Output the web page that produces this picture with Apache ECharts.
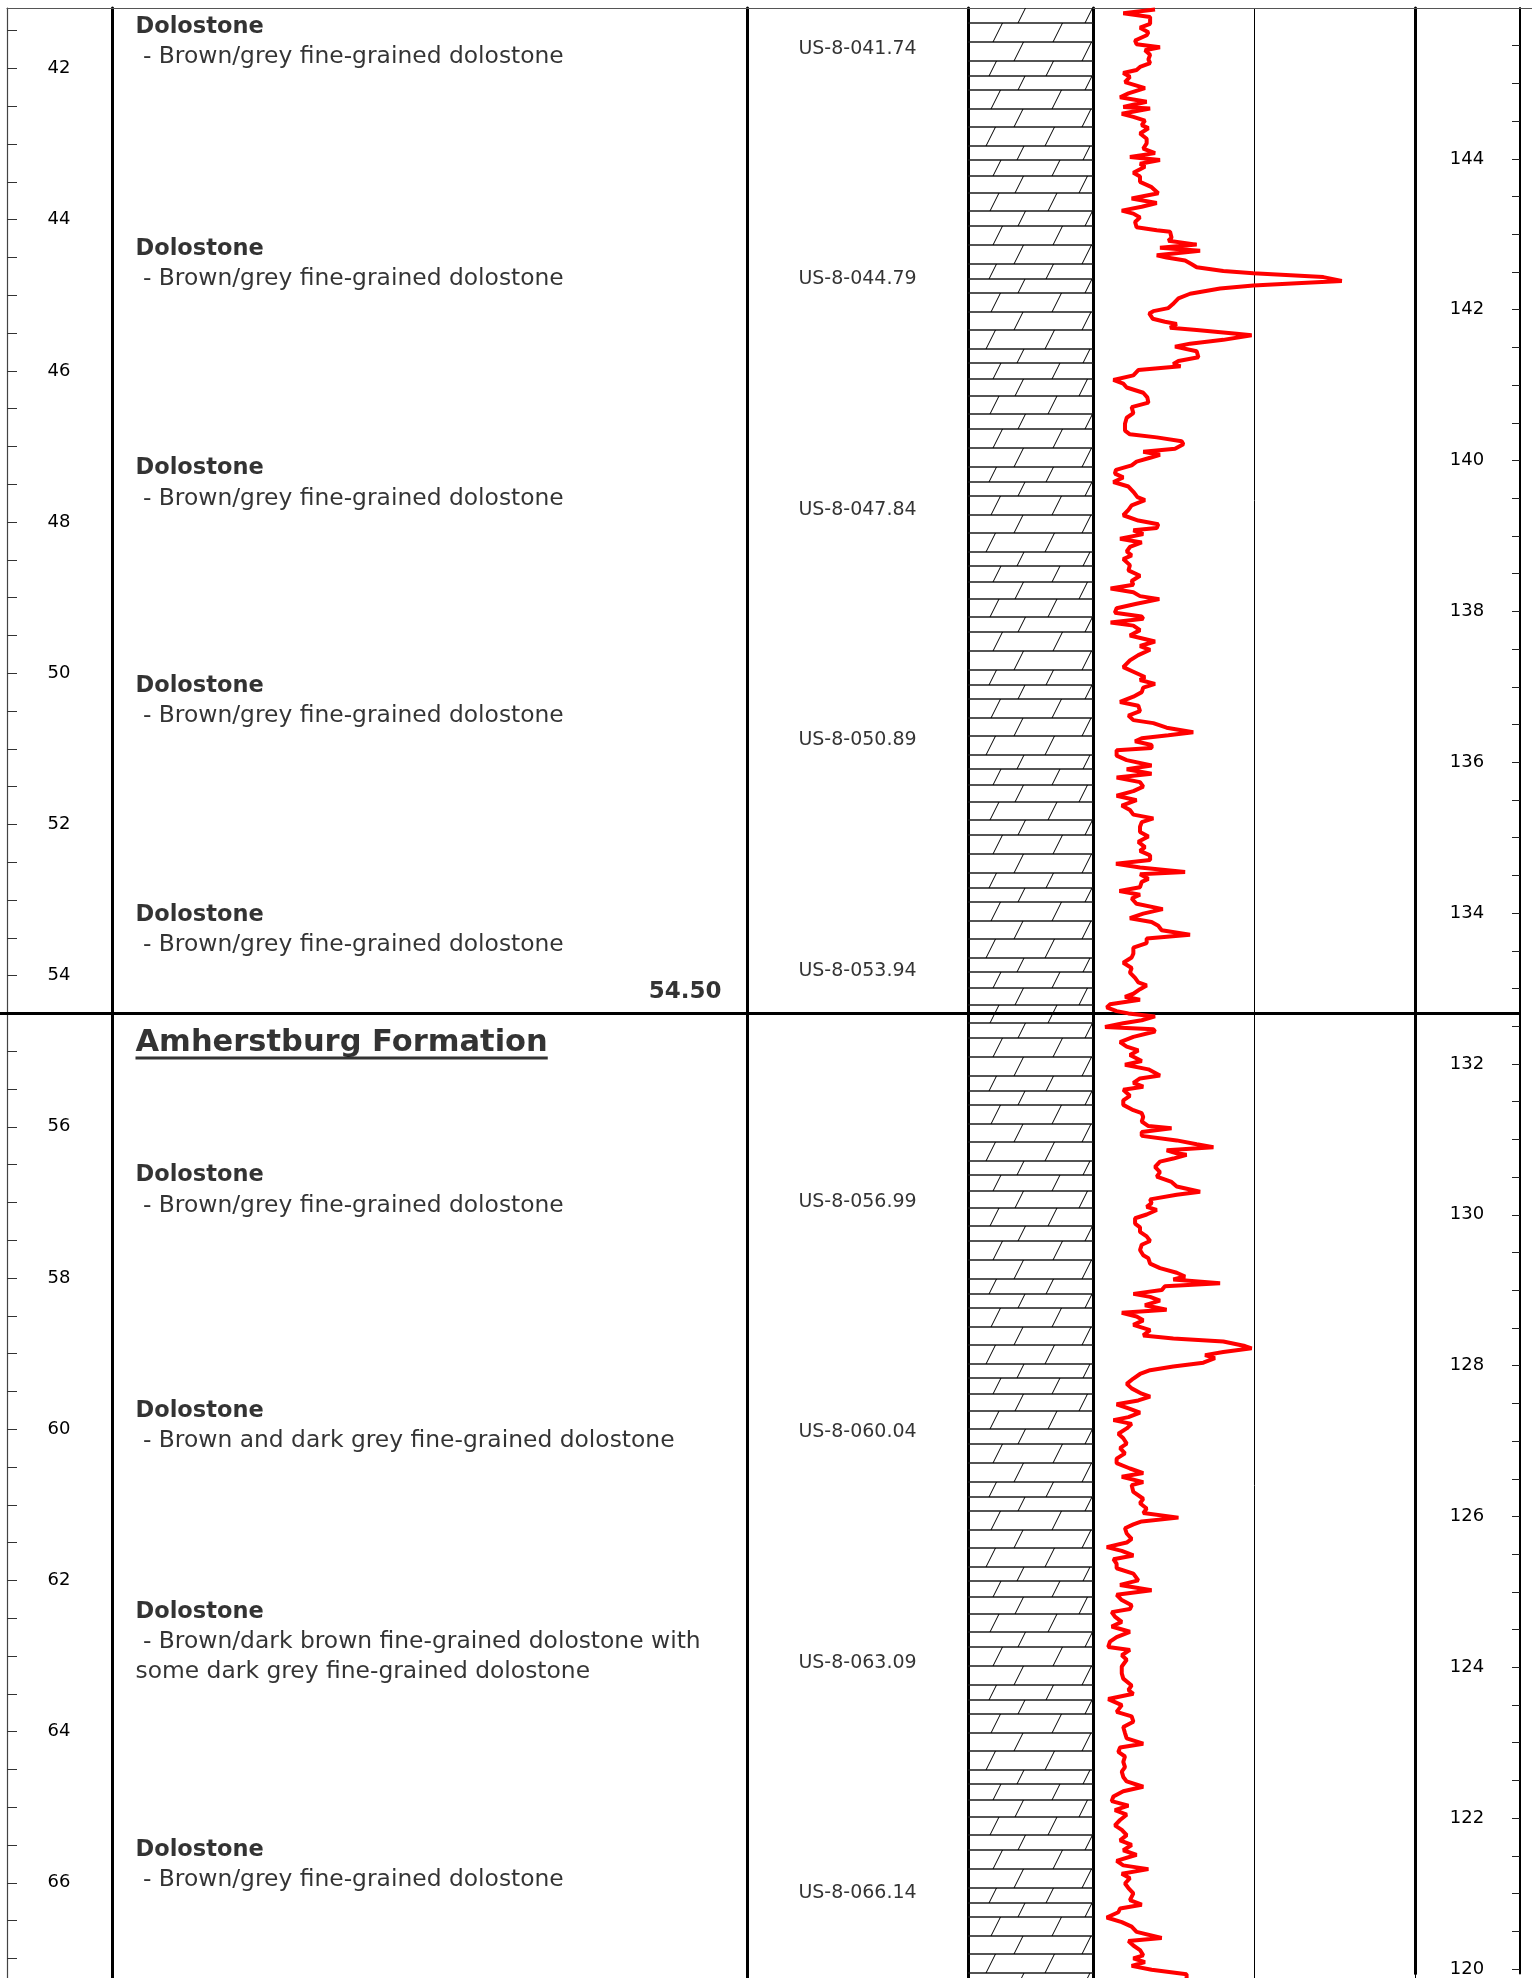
<!DOCTYPE html>
<html>
<head>
<meta charset="utf-8">
<title>US-8 borehole log</title>
<script src="https://cdn.jsdelivr.net/npm/echarts@6/dist/echarts.min.js"></script>
<style>
  html, body { margin: 0; padding: 0; background: #fff; }
  #log { width: 1532px; height: 1978px; }
</style>
</head>
<body>
<div id="log"></div>
<script>
// depth window of this sheet (m below ground) and ground elevation (m asl)
const depthTop = 41.2
const depthBottom = 67.26
const groundElev = 187.2

const depthLabels = [42, 44, 46, 48, 50, 52, 54, 56, 58, 60, 62, 64, 66]
const elevLabels = [120, 122, 124, 126, 128, 130, 132, 134, 136, 138, 140, 142, 144]

// lithology descriptions
const descDepths = [41.46, 44.40, 47.30, 50.18, 53.21, 56.65, 59.77, 62.43, 65.57]
const descTitles = ['Dolostone', 'Dolostone', 'Dolostone', 'Dolostone', 'Dolostone',
  'Dolostone', 'Dolostone', 'Dolostone', 'Dolostone']
const descLines = [
  [' - Brown/grey fine-grained dolostone'],
  [' - Brown/grey fine-grained dolostone'],
  [' - Brown/grey fine-grained dolostone'],
  [' - Brown/grey fine-grained dolostone'],
  [' - Brown/grey fine-grained dolostone'],
  [' - Brown/grey fine-grained dolostone'],
  [' - Brown and dark grey fine-grained dolostone'],
  [' - Brown/dark brown fine-grained dolostone with', 'some dark grey fine-grained dolostone'],
  [' - Brown/grey fine-grained dolostone']
]

// formation tops
const formationTops = [54.5]
const formationNames = ['Amherstburg Formation']
const formationLabelDepths = [54.89]

// core samples
const sampleIds = ['US-8-041.74', 'US-8-044.79', 'US-8-047.84', 'US-8-050.89', 'US-8-053.94',
  'US-8-056.99', 'US-8-060.04', 'US-8-063.09', 'US-8-066.14']
const sampleDepths = [41.74, 44.79, 47.84, 50.89, 53.94, 56.99, 60.04, 63.09, 66.14]

// lithology column intervals (dolostone)
const lithTop = [41.2]
const lithBottom = [67.26]

// gamma log
const gammaDepth = [
  41.22, 41.27, 41.32, 41.41, 41.46, 41.52, 41.56, 41.63, 41.68, 41.72, 41.76, 41.82, 41.88, 41.93, 41.98,
  42.02, 42.06, 42.11, 42.18, 42.26, 42.33, 42.38, 42.44, 42.51, 42.53, 42.60, 42.64, 42.69, 42.75, 42.79,
  42.86, 42.93, 42.99, 43.06, 43.12, 43.17, 43.21, 43.26, 43.30, 43.38, 43.43, 43.50, 43.57, 43.65, 43.72,
  43.78, 43.83, 43.88, 43.92, 43.97, 44.03, 44.10, 44.14, 44.16, 44.24, 44.28, 44.33, 44.37, 44.41, 44.47,
  44.50, 44.54, 44.59, 44.63, 44.68, 44.71, 44.76, 44.81, 44.84, 44.87, 44.91, 44.98, 45.04, 45.12, 45.17,
  45.21, 45.24, 45.31, 45.35, 45.38, 45.43, 45.46, 45.51, 45.53, 45.59, 45.64, 45.68, 45.74, 45.82, 45.87,
  45.91, 45.94, 45.99, 46.06, 46.12, 46.17, 46.22, 46.29, 46.35, 46.42, 46.48, 46.56, 46.62, 46.70, 46.79,
  46.84, 46.88, 46.93, 46.97, 47.03, 47.07, 47.11, 47.15, 47.20, 47.25, 47.31, 47.36, 47.41, 47.47, 47.53,
  47.60, 47.67,
  47.71, 47.78, 47.84, 47.91, 47.98, 48.03, 48.08, 48.11, 48.16, 48.22, 48.27, 48.33, 48.39, 48.44, 48.49,
  48.57, 48.64, 48.71, 48.78, 48.83, 48.88, 48.93, 48.98, 49.02, 49.08, 49.14, 49.20, 49.25, 49.28, 49.33,
  49.37, 49.43, 49.50, 49.58, 49.64, 49.69, 49.76, 49.83, 49.92, 49.98, 50.05, 50.09, 50.14, 50.19, 50.25,
  50.31, 50.38, 50.43, 50.50, 50.56, 50.62, 50.66, 50.72, 50.78, 50.82, 50.86, 50.90, 50.95, 50.99, 51.02,
  51.09, 51.15, 51.22, 51.27, 51.33, 51.38, 51.44, 51.50, 51.56, 51.62, 51.68, 51.75, 51.81, 51.87, 51.92,
  51.97, 52.03, 52.10, 52.16, 52.23, 52.30, 52.35, 52.41, 52.47, 52.52, 52.57, 52.63, 52.66, 52.72, 52.76,
  52.83, 52.88, 52.93, 52.98, 53.05, 53.12, 53.18, 53.24, 53.29, 53.34, 53.40, 53.46, 53.51, 53.57, 53.63,
  53.71, 53.76, 53.83, 53.90, 53.96, 54.03, 54.09, 54.13, 54.18,
  54.19, 54.24, 54.28, 54.32, 54.38, 54.42, 54.47, 54.50, 54.54, 54.59, 54.63, 54.68, 54.71, 54.74, 54.81,
  54.88, 54.94, 54.99, 55.05, 55.13, 55.18, 55.24, 55.32, 55.36, 55.42, 55.47, 55.51, 55.59, 55.65, 55.71,
  55.78, 55.82, 55.87, 55.93, 55.99, 56.02, 56.07, 56.12, 56.18, 56.23, 56.27, 56.31, 56.35, 56.37, 56.42,
  56.46, 56.53, 56.60, 56.66, 56.73, 56.79, 56.86, 56.90, 56.96, 57.01, 57.06, 57.10, 57.16, 57.21, 57.28,
  57.33, 57.39, 57.45, 57.51, 57.56, 57.63, 57.70, 57.74, 57.81, 57.87, 57.93, 57.98, 58.02, 58.07, 58.11,
  58.16, 58.21, 58.25, 58.30, 58.36, 58.42, 58.46, 58.51, 58.56, 58.62, 58.69, 58.76, 58.80, 58.84, 58.90,
  58.93, 58.98, 59.02, 59.06, 59.12, 59.17, 59.22, 59.27, 59.33, 59.40, 59.46, 59.53, 59.57, 59.62, 59.67,
  59.73, 59.78, 59.84, 59.88, 59.93, 59.99, 60.06, 60.12, 60.19, 60.25, 60.32, 60.39, 60.45, 60.52, 60.58,
  60.63, 60.70,
  60.74, 60.83, 60.92, 60.98, 61.05, 61.11, 61.17, 61.22, 61.26, 61.31, 61.38, 61.45, 61.50, 61.56, 61.61,
  61.67, 61.72, 61.78, 61.84, 61.91, 62.00, 62.06, 62.13, 62.19, 62.26, 62.33, 62.38, 62.42, 62.48, 62.55,
  62.61, 62.68, 62.75, 62.81, 62.88, 62.92, 62.99, 63.05, 63.14, 63.23, 63.30, 63.39, 63.45, 63.50, 63.57,
  63.65, 63.74, 63.80, 63.87, 63.94, 64.02, 64.09, 64.16, 64.21, 64.27, 64.33, 64.40, 64.47, 64.53, 64.60,
  64.66, 64.73, 64.79, 64.86, 64.92, 64.98, 65.04, 65.10, 65.17, 65.24, 65.30, 65.37, 65.44, 65.50, 65.57,
  65.63, 65.71, 65.77, 65.82, 65.88, 65.94, 66.01, 66.07, 66.14, 66.23, 66.29, 66.34, 66.39, 66.46, 66.52,
  66.58, 66.65, 66.73, 66.77, 66.83, 66.89, 66.96, 67.00, 67.05, 67.10, 67.15, 67.21, 67.26
]
const gammaValue = [
  28.9, 14.1, 26.6, 26.6, 21.9, 25.8, 25.0, 19.6, 20.3, 31.2, 24.2, 26.6, 25.8, 26.6, 21.9,
  20.3, 14.1, 17.2, 14.9, 24.2, 16.5, 12.6, 25.0, 14.1, 26.6, 13.4, 18.8, 24.2, 22.7, 25.8,
  21.9, 25.0, 25.0, 23.4, 28.9, 17.2, 31.2, 21.9, 24.2, 18.8, 21.9, 21.9, 27.3, 30.4, 18.0,
  29.7, 22.7, 13.4, 18.8, 21.9, 19.6, 20.3, 29.7, 35.9, 36.6, 35.1, 48.3, 31.2, 49.9, 29.7,
  34.3, 42.9, 46.0, 48.3, 60.7, 74.7, 107.3, 115.9, 94.9, 74.7, 59.2, 45.2, 39.8, 37.1, 35.1,
  28.1, 26.2, 27.8, 33.5, 39.0, 35.9, 48.3, 66.9, 73.9, 60.7, 45.2, 38.2, 48.3, 49.1, 39.8,
  37.4, 40.8, 21.1, 18.8, 9.5, 14.1, 15.7, 23.4, 25.3, 25.8, 18.0, 18.8, 15.7, 14.9, 14.9,
  17.2, 29.7, 41.3, 42.1, 38.2, 23.4, 31.2, 26.6, 20.3, 18.0, 10.7, 10.2, 14.1, 9.5, 16.5,
  18.8, 20.7,
  24.2, 18.0, 16.5, 14.1, 21.1, 30.4, 29.7, 18.8, 23.4, 12.6, 22.7, 17.2, 15.7, 18.0, 14.1,
  17.2, 16.5, 21.9, 18.0, 18.8, 8.2, 18.8, 21.9, 30.9, 20.3, 11.0, 10.2, 22.7, 23.4, 8.2,
  18.8, 21.9, 17.2, 28.9, 21.9, 26.6, 21.1, 17.2, 14.1, 18.8, 24.2, 21.9, 28.9, 23.4, 22.7,
  18.8, 12.6, 21.1, 21.9, 16.5, 18.8, 28.1, 34.3, 46.7, 35.1, 22.7, 19.6, 27.3, 27.3, 11.0,
  11.0, 15.7, 27.3, 15.7, 27.3, 11.0, 21.9, 23.4, 18.8, 11.0, 20.3, 13.4, 17.2, 18.8, 28.1,
  22.7, 21.9, 21.9, 25.8, 21.1, 24.2, 21.9, 26.6, 26.6, 10.7, 21.9, 42.9, 21.9, 25.8, 22.7,
  21.9, 12.3, 21.9, 18.0, 20.3, 32.5, 23.4, 17.2, 27.3, 30.4, 32.0, 45.2, 25.0, 25.0, 18.8,
  18.8, 18.0, 14.1, 18.0, 17.2, 19.6, 21.1, 25.0, 21.9,
  22.7, 18.8, 14.9, 21.9, 7.9, 6.4, 11.0, 16.5, 28.9, 22.7, 14.1, 5.6, 28.1, 28.9, 18.8,
  12.6, 15.7, 21.1, 17.2, 22.7, 14.9, 25.8, 31.2, 21.9, 18.8, 23.4, 14.1, 17.2, 14.1, 14.1,
  18.8, 22.7, 23.4, 22.7, 25.8, 36.6, 22.7, 22.7, 39.0, 48.3, 56.1, 34.3, 39.0, 43.6, 37.4,
  31.2, 28.9, 31.2, 29.7, 36.6, 39.0, 49.9, 39.0, 26.6, 27.3, 25.0, 29.7, 25.0, 19.6, 19.6,
  21.9, 21.9, 25.0, 26.6, 22.7, 21.9, 23.4, 25.8, 26.6, 31.2, 39.0, 42.9, 37.4, 59.2, 33.5,
  32.0, 18.8, 26.6, 31.2, 24.2, 34.3, 13.4, 20.3, 23.4, 18.8, 26.6, 23.4, 37.4, 60.7, 70.8,
  73.9, 60.7, 52.2, 56.8, 51.4, 37.4, 26.6, 21.9, 18.8, 15.7, 18.0, 22.7, 26.6, 21.1, 11.0,
  17.2, 21.9, 16.5, 9.5, 18.0, 15.7, 11.8, 14.1, 15.7, 12.6, 14.9, 11.0, 11.0, 17.2, 23.4,
  13.4, 23.4,
  18.0, 18.8, 23.4, 21.9, 25.0, 23.4, 39.8, 22.7, 18.8, 14.9, 15.7, 18.0, 15.7, 6.4, 13.4,
  18.8, 9.5, 11.0, 11.0, 18.8, 21.1, 12.6, 27.3, 11.0, 13.4, 18.0, 17.2, 8.7, 10.2, 13.4,
  8.7, 17.2, 11.0, 7.9, 7.1, 17.2, 13.4, 15.7, 13.4, 13.4, 14.1, 18.0, 16.5, 18.8, 7.1,
  13.4, 11.0, 18.0, 18.8, 14.1, 14.9, 15.7, 23.4, 12.6, 11.8, 14.9, 14.1, 14.9, 13.4, 14.1,
  15.7, 23.4, 14.1, 9.5, 8.7, 16.5, 10.2, 15.7, 12.6, 10.2, 13.4, 15.7, 12.6, 18.0, 14.1,
  20.3, 11.0, 14.1, 25.8, 13.4, 17.2, 14.9, 16.5, 18.8, 17.2, 22.7, 12.6, 11.8, 6.4, 13.4,
  18.0, 20.3, 32.0, 16.5, 18.8, 21.9, 23.4, 18.8, 24.2, 18.0, 27.3, 43.6, 43.6
]

const FONT = 'DejaVu Sans'
const INK = '#000'

// minor ticks every half metre
const depthTicks = []
for (let d = 41.5; d <= 67; d += 0.5) depthTicks.push(d)
const elevTicks = []
for (let e = 120; e <= 145.5; e += 0.5) elevTicks.push(e)

// dolostone brick hatch: row heights (px) and slash offsets from column left (px)
const HATCH_ROWS = [15, 19, 19, 15, 14, 19, 18, 19, 14, 16, 17, 18]
const HATCH_SLASH = [[50, 117], [25, 85], [46, 114], [21, 78], [50, 117], [23, 84],
  [46, 114], [18, 77], [49, 115], [25, 84], [47, 111], [22, 80]]

function textWidth (text, font) {
  const ctx = document.createElement('canvas').getContext('2d')
  ctx.font = font
  return ctx.measureText(text).width
}

function hiddenX (gridIndex, extra) {
  return Object.assign({
    gridIndex: gridIndex,
    type: 'value',
    min: 0,
    max: 1,
    axisLine: { show: false },
    axisTick: { show: false },
    axisLabel: { show: false },
    splitLine: { show: false }
  }, extra)
}

function depthY (gridIndex, extra) {
  return Object.assign({
    gridIndex: gridIndex,
    type: 'value',
    inverse: true,
    min: depthTop,
    max: depthBottom,
    axisLine: { show: false },
    axisTick: { show: false },
    axisLabel: { show: false },
    splitLine: { show: false }
  }, extra)
}

const border = { axisLine: { show: true, lineStyle: { color: '#000', width: 3 } } }

function renderLith (params, api) {
  const p0 = api.coord([0, api.value(0)])
  const p1 = api.coord([1, api.value(1)])
  const x0 = p0[0]
  const x1 = p1[0]
  const yEnd = p1[1]
  const children = []
  let y = p0[1]
  let i = 0
  while (y < yEnd) {
    const h = HATCH_ROWS[i % HATCH_ROWS.length]
    const yb = y + h
    children.push({
      type: 'line',
      shape: { x1: x0, y1: yb, x2: x1, y2: yb },
      style: { stroke: '#1a1a1a', lineWidth: 1.4 }
    })
    const yTop = y
    HATCH_SLASH[i % HATCH_SLASH.length].forEach(function (o) {
      const xs = x0 + o
      const xe = Math.min(xs + h * 0.5, x1)
      children.push({
        type: 'line',
        shape: { x1: xs, y1: yb, x2: xe, y2: yb - (xe - xs) * 2 },
        style: { stroke: '#000', lineWidth: 1 }
      })
    })
    y = yb
    i++
  }
  return { type: 'group', children: children }
}

function renderBoundary (params, api) {
  const a = api.coord([0, api.value(0)])
  const b = api.coord([1, api.value(0)])
  return {
    type: 'line',
    shape: { x1: a[0], y1: a[1], x2: b[0], y2: b[1] },
    style: { stroke: '#000', lineWidth: 3 }
  }
}

const fmtFont = 'bold 30.5px "' + FONT + '"'
const underlineW = textWidth(formationNames[0], fmtFont)

const chart = echarts.init(document.getElementById('log'), null, { renderer: 'canvas' })

chart.setOption({
  animation: false,
  backgroundColor: '#fff',
  grid: [
    { left: 7, width: 105, top: 8, bottom: 0 }, // depth
    { left: 112, width: 635, top: 8, bottom: 0 }, // description
    { left: 747, width: 221, top: 8, bottom: 0 }, // samples
    { left: 968, width: 125, top: 8, bottom: 0 }, // lithology
    { left: 1093, width: 322, top: 8, bottom: 0 }, // gamma
    { left: 1415, width: 105, top: 8, bottom: 0 }, // elevation
    { left: 7, right: 0, top: 8, bottom: 0 }, // top frame line
    { left: 0, width: 1520, top: 8, bottom: 0 } // formation boundary
  ],
  xAxis: [
    hiddenX(0),
    hiddenX(1),
    hiddenX(2),
    hiddenX(3),
    hiddenX(4, {
      max: 150,
      interval: 75,
      splitLine: { show: true, lineStyle: { color: '#000', width: 1 } }
    }),
    hiddenX(5),
    hiddenX(6, { position: 'top', axisLine: { show: true, lineStyle: { color: '#555', width: 1.2 } } }),
    hiddenX(7)
  ],
  yAxis: [
    depthY(0, {
      position: 'left',
      axisLine: { show: true, lineStyle: { color: '#444', width: 1.2 } },
      axisTick: { show: true, inside: true, length: 10, customValues: depthTicks, lineStyle: { color: '#333', width: 1 } },
      axisLabel: {
        show: true, inside: true, margin: 52, align: 'center', customValues: depthLabels,
        fontFamily: FONT, fontSize: 18, color: INK
      }
    }),
    depthY(1, border),
    depthY(2, border),
    depthY(3, border),
    depthY(4, border),
    depthY(5, border),
    {
      gridIndex: 5,
      type: 'value',
      position: 'right',
      min: groundElev - depthBottom,
      max: groundElev - depthTop,
      axisLine: { show: true, lineStyle: { color: '#000', width: 2 } },
      axisTick: { show: true, inside: true, length: 8, customValues: elevTicks, lineStyle: { color: '#222', width: 1 } },
      axisLabel: {
        show: true, inside: true, margin: 53, align: 'center', customValues: elevLabels,
        fontFamily: FONT, fontSize: 18, color: INK
      },
      splitLine: { show: false }
    },
    depthY(6),
    depthY(7)
  ],
  series: [
    {
      name: 'lithology',
      type: 'custom',
      xAxisIndex: 3,
      yAxisIndex: 3,
      silent: true,
      encode: { y: [0, 1] },
      data: lithTop.map(function (t, i) { return [t, lithBottom[i]] }),
      renderItem: renderLith,
      z: 1
    },
    {
      name: 'boundary',
      type: 'custom',
      xAxisIndex: 7,
      yAxisIndex: 8,
      silent: true,
      encode: { y: 0 },
      data: formationTops.map(function (d) { return [d] }),
      renderItem: renderBoundary,
      z: 3
    },
    {
      name: 'gamma',
      type: 'line',
      xAxisIndex: 4,
      yAxisIndex: 4,
      silent: true,
      symbol: 'none',
      data: gammaValue.map(function (v, i) { return [v, gammaDepth[i]] }),
      lineStyle: { color: '#ff0000', width: 4 },
      z: 5
    },
    {
      name: 'descriptions',
      type: 'scatter',
      xAxisIndex: 1,
      yAxisIndex: 1,
      silent: true,
      symbolSize: 1,
      itemStyle: { color: 'rgba(0,0,0,0)' },
      data: descDepths.map(function (d) { return [0, d] }),
      label: {
        show: true,
        position: [24, -15],
        align: 'left',
        verticalAlign: 'top',
        color: INK,
        formatter: function (p) {
          return '{h|' + descTitles[p.dataIndex] + '}' +
            descLines[p.dataIndex].map(function (l) { return '\n{b|' + l + '}' }).join('')
        },
        rich: {
          h: { fontFamily: FONT, fontWeight: 'bold', fontSize: 22.5, lineHeight: 30, color: INK },
          b: { fontFamily: FONT, fontSize: 23.4, lineHeight: 30, color: INK }
        }
      }
    },
    {
      name: 'formation',
      type: 'scatter',
      xAxisIndex: 1,
      yAxisIndex: 1,
      silent: true,
      symbolSize: 1,
      itemStyle: { color: 'rgba(0,0,0,0)' },
      data: formationLabelDepths.map(function (d) { return [0, d] }),
      label: {
        show: true,
        position: [24, -13],
        align: 'left',
        verticalAlign: 'top',
        color: INK,
        formatter: function (p) { return '{f|' + formationNames[p.dataIndex] + '}\n{u|}' },
        rich: {
          f: { fontFamily: FONT, fontWeight: 'bold', fontSize: 30.5, lineHeight: 27, color: INK },
          u: { width: underlineW, height: 3, lineHeight: 3, backgroundColor: INK }
        }
      }
    },
    {
      name: 'formationTop',
      type: 'scatter',
      xAxisIndex: 1,
      yAxisIndex: 1,
      silent: true,
      symbolSize: 1,
      itemStyle: { color: 'rgba(0,0,0,0)' },
      data: formationTops.map(function (d) { return [1, d] }),
      label: {
        show: true,
        position: [-25, -21],
        align: 'right',
        verticalAlign: 'middle',
        formatter: function (p) { return p.value[1].toFixed(2) },
        fontFamily: FONT,
        fontWeight: 'bold',
        fontSize: 23,
        color: INK
      }
    },
    {
      name: 'samples',
      type: 'scatter',
      xAxisIndex: 2,
      yAxisIndex: 2,
      silent: true,
      symbolSize: 1,
      itemStyle: { color: 'rgba(0,0,0,0)' },
      data: sampleDepths.map(function (d) { return [0.5, d] }),
      label: {
        show: true,
        position: [0.5, 0.5],
        align: 'center',
        verticalAlign: 'middle',
        formatter: function (p) { return sampleIds[p.dataIndex] },
        fontFamily: FONT,
        fontSize: 19,
        color: INK
      }
    }
  ]
})
</script>
</body>
</html>
